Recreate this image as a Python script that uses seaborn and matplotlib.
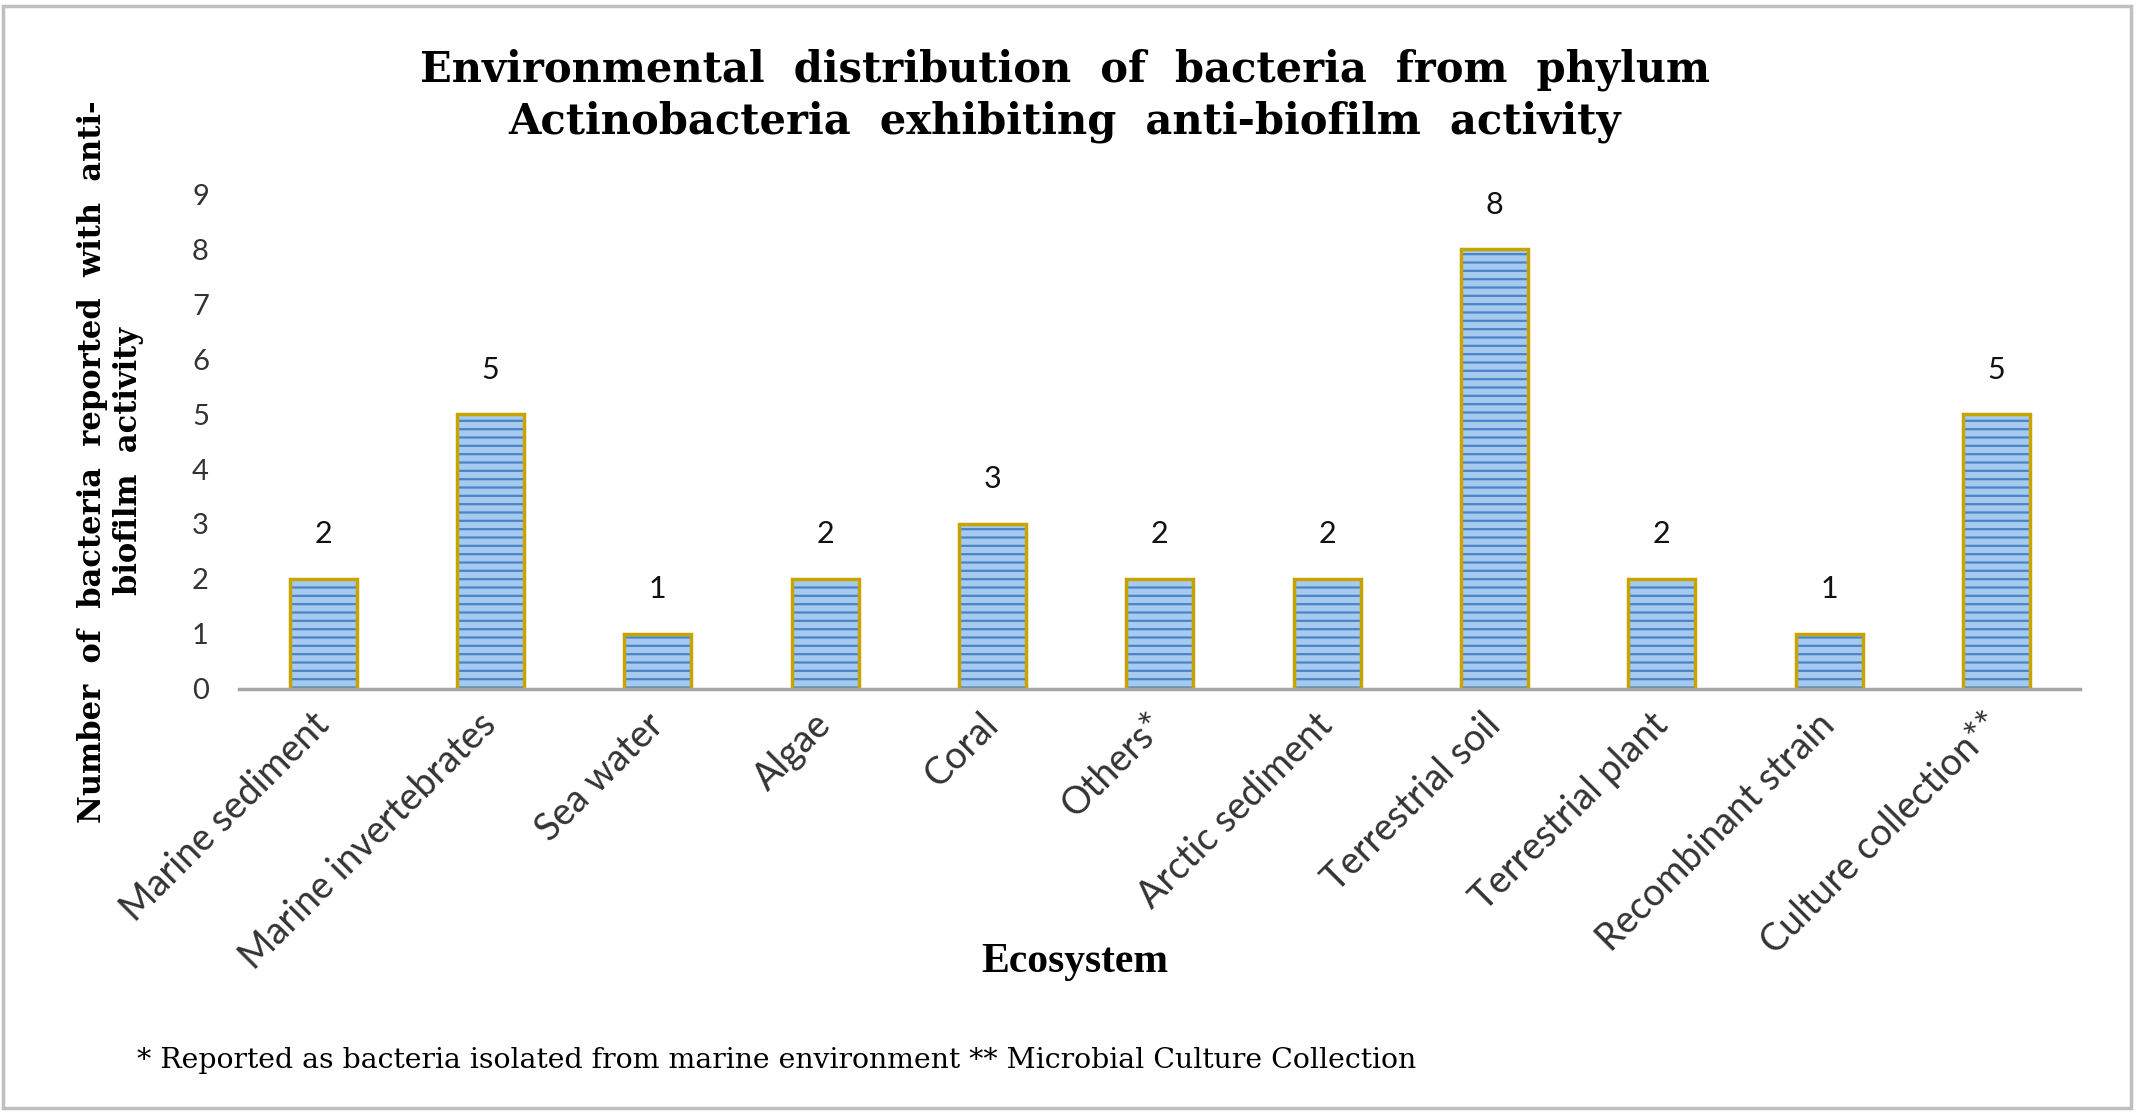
"""Environmental distribution of anti-biofilm Actinobacteria, by ecosystem."""

import matplotlib.pyplot as plt
import pandas as pd
import seaborn as sns
from matplotlib.patches import Rectangle

ecosystems = [
    "Marine sediment",
    "Marine invertebrates",
    "Sea water",
    "Algae",
    "Coral",
    "Others*",
    "Arctic sediment",
    "Terrestrial soil",
    "Terrestrial plant",
    "Recombinant strain",
    "Culture collection**",
]
counts = [2, 5, 1, 2, 3, 2, 2, 8, 2, 1, 5]
y_ticks = list(range(0, 10))

title = ("Environmental  distribution  of  bacteria  from  phylum\n"
         "Actinobacteria  exhibiting  anti-biofilm  activity")
y_label = "Number  of  bacteria  reported  with  anti-\nbiofilm  activity"
x_label = "Ecosystem"
footnote = "* Reported as bacteria isolated from marine environment ** Microbial Culture Collection"

FILL = "#A6CAEE"
HATCH = "#4A84C8"
EDGE = "#C8A400"
TICK_COLOR = "#333333"
SERIF = "Liberation Serif"
SLAB = "DejaVu Serif"
SANS = "Lato"

sns.set_theme(style="white")
plt.rcParams.update({"hatch.linewidth": 1.6, "hatch.color": HATCH, "text.color": "black"})

df = pd.DataFrame({"Ecosystem": ecosystems, "Count": counts})

fig = plt.figure(figsize=(21.38, 11.18), dpi=100)
ax = fig.add_axes([0.112, 0.384, 0.861, 0.442])

# hatched fill, then a gold outline drawn over it
sns.barplot(data=df, x="Ecosystem", y="Count", ax=ax, width=0.4,
            color=FILL, edgecolor=HATCH, linewidth=0, hatch="--",
            saturation=1)
sns.barplot(data=df, x="Ecosystem", y="Count", ax=ax, width=0.4,
            fill=False, edgecolor=EDGE, linewidth=2.5)

for i, val in enumerate(counts):
    ax.annotate(f"{val}", xy=(i, val), xytext=(0, 22), textcoords="offset points",
                ha="center", va="bottom", fontsize=22, family=SANS, color="#111111")

ax.set_ylim(0, 9)
ax.set_xlim(-0.5, len(ecosystems) - 0.5)
ax.set_yticks(y_ticks)
ax.set_yticklabels([str(t) for t in y_ticks], fontsize=21, family=SANS, color=TICK_COLOR)
ax.set_xticks(range(len(ecosystems)))
ax.set_xticklabels(ecosystems, rotation=45, ha="right", va="center",
                   rotation_mode="anchor", fontsize=27, family=SANS, color=TICK_COLOR)
ax.tick_params(axis="y", length=0, pad=22)
ax.tick_params(axis="x", length=0, pad=22)

for side in ["top", "right", "left"]:
    ax.spines[side].set_visible(False)
ax.spines["bottom"].set_color("#A6A6A6")
ax.spines["bottom"].set_linewidth(2.5)

ax.set_xlabel(x_label, fontsize=30, fontweight="bold", family=SERIF, color="black")
ax.xaxis.set_label_coords(0.454, -0.515)
ax.set_ylabel(y_label, fontsize=22, fontweight="bold", family=SLAB, linespacing=1.2,
              color="black")
ax.yaxis.set_label_coords(-0.052, 0.46)

fig.text(0.498, 0.957, title, ha="center", va="top", fontsize=30,
         fontweight="bold", family=SLAB, linespacing=1.3, color="black")
fig.text(0.064, 0.051, footnote, ha="left", va="center", fontsize=20.4, family=SLAB,
         color="black")

fig.patches.append(Rectangle((0.0015, 0.009), 0.995, 0.986, transform=fig.transFigure,
                             fill=False, edgecolor="#BFBFBF", linewidth=2.5))

fig.savefig("out.png", dpi=100, facecolor="white")
